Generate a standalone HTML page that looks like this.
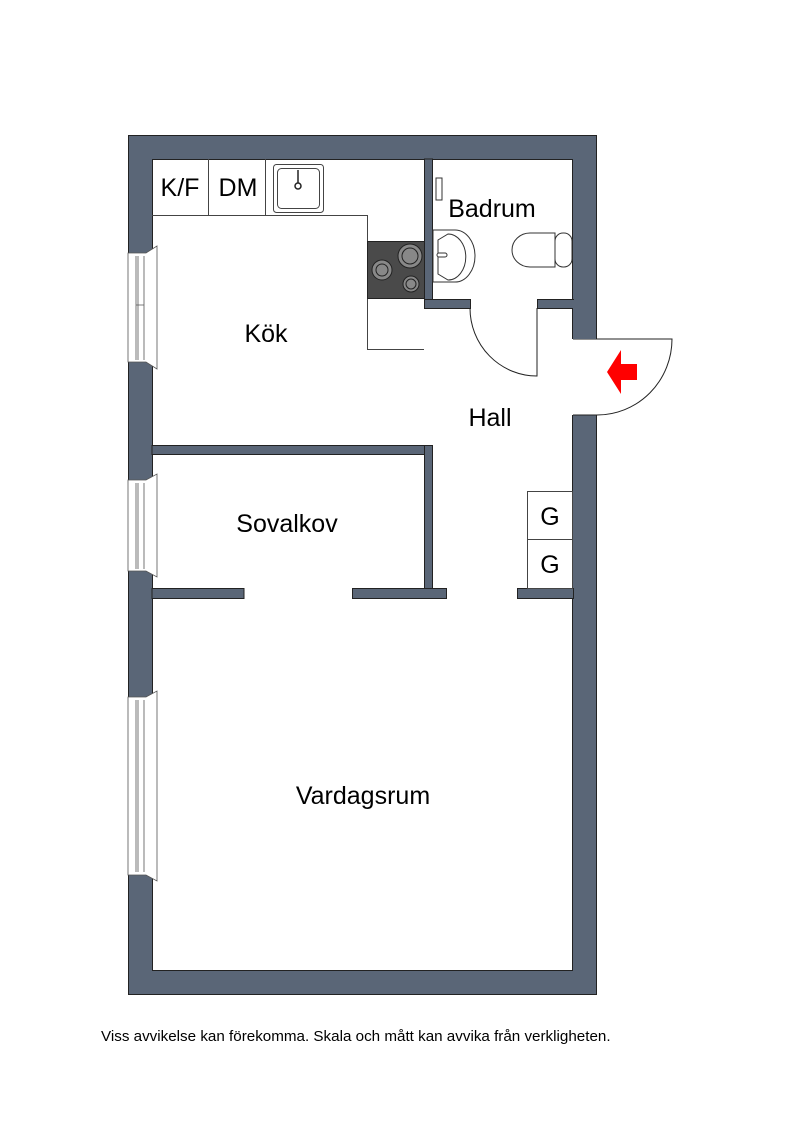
<!DOCTYPE html>
<html><head><style>
body{margin:0;background:#fff;}
svg{display:block;font-family:"Liberation Sans",sans-serif;}
</style></head><body>
<svg width="800" height="1131" viewBox="0 0 800 1131" xmlns="http://www.w3.org/2000/svg">
<g stroke="#222" stroke-width="1">
<rect x="128.5" y="135.5" width="468" height="859" fill="#5a6677"/>
<rect x="152.5" y="159.5" width="420" height="811" fill="#fff"/>
<rect x="572" y="339" width="26" height="76" fill="#fff" stroke="none"/>
<path d="M573 339H597M573 415H597" fill="none"/>
<rect x="424.5" y="159" width="8" height="149" fill="#5a6677"/>
<rect x="424.5" y="299.5" width="46" height="9" fill="#5a6677"/>
<rect x="537.5" y="299.5" width="36" height="9" fill="#5a6677"/>
<rect x="152" y="445.5" width="280" height="9" fill="#5a6677"/>
<rect x="424.5" y="445.5" width="8" height="150" fill="#5a6677"/>
<rect x="152" y="588.5" width="92" height="10" fill="#5a6677"/>
<rect x="352.5" y="588.5" width="94" height="10" fill="#5a6677"/>
<rect x="517.5" y="588.5" width="56" height="10" fill="#5a6677"/>
</g>
<g fill="#5a6677" stroke="none">
<rect x="129" y="136" width="23" height="23"/><rect x="573" y="136" width="23" height="23"/>
<rect x="573" y="300" width="23" height="39"/>
<rect x="425" y="446" width="7" height="9"/>
<rect x="425" y="589" width="7" height="9"/>
<rect x="425" y="300" width="7" height="8"/>
</g>
<g fill="#fff" stroke="#555" stroke-width="0.8">
<path d="M128 253H146L157 246V369L146 362H128Z"/>
<path d="M128 480H146L157 474V577L146 571H128Z"/>
<path d="M128 697H146L157 691V881L146 875H128Z"/>
<path d="M136 256V360M138 256V360M144 256V360M136 305H144M136 483V569M138 483V569M144 483V569M136 700V872M138 700V872M144 700V872" fill="none"/>
</g>
<g fill="none" stroke="#444" stroke-width="1">
<path d="M152 215.5H367.5V349.5H424"/>
<path d="M208.5 159V215M265.5 159V215"/>
<rect x="273.5" y="164.5" width="50" height="48" rx="3"/>
<rect x="277.5" y="168.5" width="42" height="40" rx="4"/>
</g>
<rect x="367.5" y="241.5" width="57" height="57" fill="#4a4a4a" stroke="#222"/>
<g stroke="#222" fill="#888">
<circle cx="410" cy="256" r="12"/><circle cx="410" cy="256" r="8"/>
<circle cx="382" cy="270" r="10"/><circle cx="382" cy="270" r="6"/>
<circle cx="411" cy="284" r="8"/><circle cx="411" cy="284" r="5"/>
</g>
<circle cx="298" cy="186" r="3" fill="none" stroke="#222" stroke-width="1.5"/>
<line x1="298" y1="170" x2="298" y2="183" stroke="#222" stroke-width="1.5"/>
<g fill="#fff" stroke="#333" stroke-width="1">
<path d="M433 230H455A20 26 0 0 1 455 282H433Z"/>
<path d="M438 240L448 234A17 22 0 0 1 448 280L438 274Z"/>
<rect x="437" y="253" width="10" height="4" rx="2"/>
<path d="M555 233H530A18 17 0 0 0 530 267H555Z"/>
<rect x="555" y="233" width="17" height="34" rx="8"/>
<rect x="436" y="178" width="6" height="22"/>
</g>
<g fill="none" stroke="#222" stroke-width="1">
<path d="M470 308A67 68 0 0 0 537 376V308"/>
<path d="M597 339H672A75 76 0 0 1 597 415"/>
</g>
<path d="M607 372L621 350V364H637V380H621V394Z" fill="#f00"/>
<g fill="#fff" stroke="#444">
<rect x="527.5" y="491.5" width="45" height="48"/>
<rect x="527.5" y="539.5" width="45" height="49"/>
</g>
<g font-size="25" fill="#000" text-anchor="middle">
<text x="180" y="196">K/F</text>
<text x="238" y="196">DM</text>
<text x="266" y="342">Kök</text>
<text x="492" y="217">Badrum</text>
<text x="490" y="426">Hall</text>
<text x="287" y="532">Sovalkov</text>
<text x="363" y="804">Vardagsrum</text>
<text x="550" y="525">G</text>
<text x="550" y="573">G</text>
</g>
<text x="101" y="1041" font-size="15.2" fill="#000">Viss avvikelse kan förekomma. Skala och mått kan avvika från verkligheten.</text>
</svg>
</body></html>
